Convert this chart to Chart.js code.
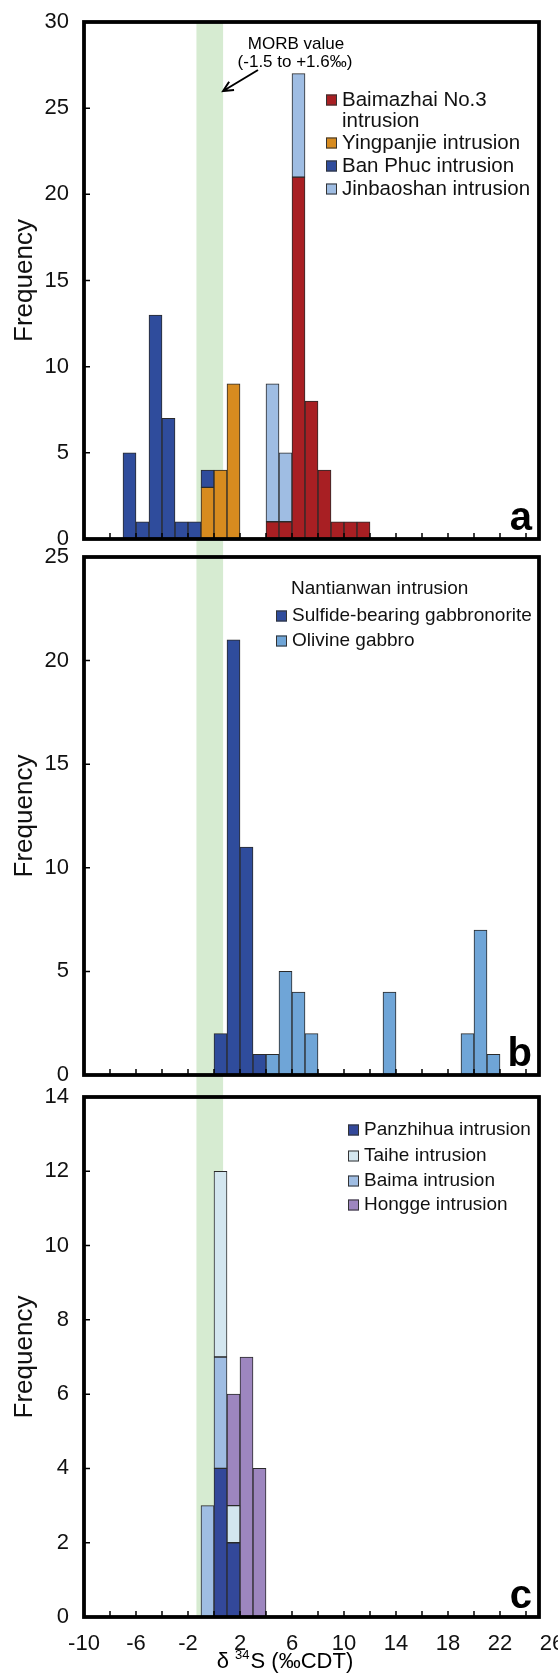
<!DOCTYPE html>
<html lang="en">
<head>
<meta charset="UTF-8">
<title>Sulfur isotope histograms</title>
<script src="https://cdn.jsdelivr.net/npm/chart.js"></script>
<style>
  * { margin: 0; padding: 0; box-sizing: border-box; }
  body { width: 558px; height: 1673px; background: #fff; position: relative; overflow: hidden; }
  canvas { position: absolute; left: 0; display: block; }
  #chartA { top: 0; }
  #chartB { top: 548px; }
  #chartC { top: 1087px; }
</style>
</head>
<body>
<canvas id="chartA" width="558" height="548"></canvas>
<canvas id="chartB" width="558" height="539"></canvas>
<canvas id="chartC" width="558" height="586"></canvas>
<script>
// bins are 1 permil wide, given by their left edge
const xTickValues = [-10, -8, -6, -4, -2, 0, 2, 4, 6, 8, 10, 12, 14, 16, 18, 20, 22, 24, 26];
const xTickLabels = [-10, -6, -2, 2, 6, 10, 14, 18, 22, 26];
const xTitleParts = ['δ ', '34', 'S (‰CDT)'];
const morbRange = [-1.35, 0.7];
const morbNote = ['MORB value', '(-1.5 to +1.6‰)'];

// panel a
const yTicksA = [0, 5, 10, 15, 20, 25, 30];
const baimazhaiBins = [4, 5, 6, 7, 8, 9, 10, 11];
const baimazhaiCounts = [1, 1, 21, 8, 4, 1, 1, 1];
const yingpanjieBins = [-1, 0, 1];
const yingpanjieCounts = [3, 4, 9];
const banPhucBins = [-7, -6, -5, -4, -3, -2, -1];
const banPhucCounts = [5, 1, 13, 7, 1, 1, 1];
const jinbaoshanBins = [4, 5, 6];
const jinbaoshanCounts = [8, 4, 6];

// panel b
const yTicksB = [0, 5, 10, 15, 20, 25];
const sulfideBins = [0, 1, 2, 3];
const sulfideCounts = [2, 21, 11, 1];
const olivineBins = [4, 5, 6, 7, 13, 19, 20, 21];
const olivineCounts = [1, 5, 4, 2, 4, 2, 7, 1];

// panel c
const yTicksC = [0, 2, 4, 6, 8, 10, 12, 14];
const panzhihuaBins = [0, 1];
const panzhihuaCounts = [4, 2];
const baimaBins = [-1, 0];
const baimaCounts = [3, 3];
const taiheBins = [0, 1];
const taiheCounts = [5, 1];
const honggeBins = [1, 2, 3];
const honggeCounts = [3, 7, 4];

const FONT = "'Liberation Sans', Arial, sans-serif";
Chart.defaults.font.family = FONT;
Chart.defaults.color = '#111';

function toPoints(bins, counts) {
  return bins.map((b, i) => ({ x: b + 0.5, y: counts[i] }));
}

function barSet(label, bins, counts, color) {
  return {
    label: label,
    data: toPoints(bins, counts),
    backgroundColor: color,
    borderColor: '#2a2a2a',
    borderWidth: 1,
    borderSkipped: false,
    barPercentage: 1,
    categoryPercentage: 1
  };
}

// green MORB band, thick frame, inward ticks, legend, panel letter
const panelPlugin = {
  id: 'panel',
  beforeDatasetsDraw(chart, args, o) {
    const { ctx, chartArea, scales: { x } } = chart;
    const x0 = x.getPixelForValue(morbRange[0]);
    const x1 = x.getPixelForValue(morbRange[1]);
    const top = o.bandTop === 'canvas' ? 0 : chartArea.top;
    const bottom = o.bandBottom === 'canvas' ? chart.height : chartArea.bottom;
    ctx.save();
    ctx.fillStyle = '#d6ebd1';
    ctx.fillRect(x0, top, x1 - x0, bottom - top);
    ctx.restore();
  },
  afterDatasetsDraw(chart, args, o) {
    const { ctx, scales: { x, y } } = chart;
    const left = x.getPixelForValue(-10);
    const right = x.getPixelForValue(25);
    const top = y.getPixelForValue(y.max);
    const bottom = y.getPixelForValue(0);
    ctx.save();
    ctx.strokeStyle = '#000';
    ctx.lineWidth = 1.5;
    ctx.beginPath();
    x.ticks.forEach(t => {
      if (t.value > -10 && t.value < 25) {
        const px = x.getPixelForValue(t.value);
        ctx.moveTo(px, bottom);
        ctx.lineTo(px, bottom - 6);
      }
    });
    y.ticks.forEach(t => {
      if (t.value > 0 && t.value < y.max) {
        const py = y.getPixelForValue(t.value);
        ctx.moveTo(left, py);
        ctx.lineTo(left + 6, py);
      }
    });
    ctx.stroke();
    ctx.lineWidth = 3.8;
    ctx.strokeRect(left, top, right - left, bottom - top);
    ctx.restore();
  },
  afterDraw(chart, args, o) {
    const { ctx, scales: { x, y } } = chart;
    const lg = o.legend;
    ctx.save();
    ctx.textBaseline = 'middle';
    ctx.textAlign = 'left';
    ctx.font = lg.size + 'px ' + FONT;
    ctx.fillStyle = '#111';
    if (lg.header) ctx.fillText(lg.header.text, lg.header.x, lg.header.y);
    lg.order.forEach((di, k) => {
      const ds = chart.data.datasets[di];
      const ry = lg.rows[k];
      ctx.fillStyle = ds.backgroundColor;
      ctx.fillRect(lg.boxX, ry - 5.5, 11, 11);
      ctx.strokeStyle = '#333';
      ctx.lineWidth = 1;
      ctx.strokeRect(lg.boxX + 0.5, ry - 5, 10, 10);
      ctx.fillStyle = '#111';
      const lines = Array.isArray(ds.label) ? ds.label : [ds.label];
      lines.forEach((ln, j) => ctx.fillText(ln, lg.textX, ry + j * 21));
    });
    // panel letter
    ctx.font = 'bold 40px ' + FONT;
    ctx.textAlign = 'right';
    ctx.textBaseline = 'alphabetic';
    ctx.fillStyle = '#000';
    ctx.fillText(o.letter, x.getPixelForValue(25) - 7, y.getPixelForValue(0) - 9);
    if (o.note) {
      ctx.font = '17px ' + FONT;
      ctx.textAlign = 'center';
      ctx.textBaseline = 'middle';
      ctx.fillText(morbNote[0], 296, 44);
      ctx.fillText(morbNote[1], 295, 62);
      const hx = x.getPixelForValue(morbRange[1]);
      const hy = 91;
      const tx = 258, ty = 70;
      ctx.strokeStyle = '#000';
      ctx.lineWidth = 2;
      ctx.beginPath();
      ctx.moveTo(tx, ty);
      ctx.lineTo(hx, hy);
      const ang = Math.atan2(hy - ty, hx - tx);
      ctx.moveTo(hx - 11 * Math.cos(ang - 0.45), hy - 11 * Math.sin(ang - 0.45));
      ctx.lineTo(hx, hy);
      ctx.lineTo(hx - 11 * Math.cos(ang + 0.45), hy - 11 * Math.sin(ang + 0.45));
      ctx.stroke();
    }
    if (o.xTitle) {
      // δ with superscript 34
      const big = '22px ' + FONT, small = '13px ' + FONT;
      ctx.textAlign = 'left';
      ctx.textBaseline = 'alphabetic';
      ctx.font = big;
      const w0 = ctx.measureText(xTitleParts[0]).width;
      const w2 = ctx.measureText(xTitleParts[2]).width;
      ctx.font = small;
      const w1 = ctx.measureText(xTitleParts[1]).width + 1;
      let cx = o.xTitle.x - (w0 + w1 + w2) / 2;
      const by = o.xTitle.y;
      ctx.font = big;
      ctx.fillText(xTitleParts[0], cx, by);
      cx += w0;
      ctx.font = small;
      ctx.fillText(xTitleParts[1], cx, by - 9);
      cx += w1;
      ctx.font = big;
      ctx.fillText(xTitleParts[2], cx, by);
    }
    ctx.restore();
  }
};

function makeChart(id, datasets, yTicks, o) {
  return new Chart(document.getElementById(id), {
    type: 'bar',
    data: { datasets: datasets },
    options: {
      responsive: false,
      animation: false,
      events: [],
      layout: { padding: { top: o.top, right: 6, left: 0, bottom: 0 } },
      plugins: {
        legend: { display: false },
        tooltip: { enabled: false },
        panel: o.panel
      },
      scales: {
        x: {
          type: 'linear',
          stacked: true,
          offset: false,
          min: -10,
          max: 26,
          grid: { display: false },
          border: { display: false },
          afterBuildTicks: s => { s.ticks = xTickValues.map(v => ({ value: v })); },
          ticks: {
            display: o.xLabels,
            autoSkip: false,
            maxRotation: 0,
            padding: 6,
            font: { size: 22 },
            callback: v => (xTickLabels.includes(v) ? String(v) : '')
          },
          afterFit: s => { s.height = o.xHeight; s.paddingLeft = 0; s.paddingRight = 0; }
        },
        y: {
          stacked: true,
          min: 0,
          max: yTicks[yTicks.length - 1],
          grid: { display: false },
          border: { display: false },
          afterBuildTicks: s => { s.ticks = yTicks.map(v => ({ value: v })); },
          ticks: { padding: 7, font: { size: 22 } },
          title: { display: true, text: 'Frequency', font: { size: 26 }, padding: { top: 9, bottom: 0 } },
          afterFit: s => { s.width = 84; s.paddingTop = 0; s.paddingBottom = 0; }
        }
      }
    },
    plugins: [panelPlugin]
  });
}

makeChart('chartA', [
  barSet(['Baimazhai No.3', 'intrusion'], baimazhaiBins, baimazhaiCounts, '#a81f23'),
  barSet('Yingpanjie intrusion', yingpanjieBins, yingpanjieCounts, '#d78b1f'),
  barSet('Ban Phuc intrusion', banPhucBins, banPhucCounts, '#2f4c9c'),
  barSet('Jinbaoshan intrusion', jinbaoshanBins, jinbaoshanCounts, '#9fbde3')
], yTicksA, {
  top: 22, xHeight: 9, xLabels: false,
  panel: {
    letter: 'a', bandTop: 'area', bandBottom: 'canvas', note: true,
    legend: { size: 20.5, order: [0, 1, 2, 3], boxX: 326, textX: 342, rows: [100, 143, 166, 189] }
  }
});

makeChart('chartB', [
  barSet('Sulfide-bearing gabbronorite', sulfideBins, sulfideCounts, '#2f4c9c'),
  barSet('Olivine gabbro', olivineBins, olivineCounts, '#6fa5d7')
], yTicksB, {
  top: 9, xHeight: 12, xLabels: false,
  panel: {
    letter: 'b', bandTop: 'canvas', bandBottom: 'canvas',
    legend: { size: 19, order: [0, 1], boxX: 276, textX: 292, rows: [68, 93],
              header: { text: 'Nantianwan intrusion', x: 291, y: 41 } }
  }
});

makeChart('chartC', [
  barSet('Panzhihua intrusion', panzhihuaBins, panzhihuaCounts, '#33489a'),
  barSet('Baima intrusion', baimaBins, baimaCounts, '#9fbde3'),
  barSet('Taihe intrusion', taiheBins, taiheCounts, '#d3e6ef'),
  barSet('Hongge intrusion', honggeBins, honggeCounts, '#9d86bf')
], yTicksC, {
  top: 10, xHeight: 56, xLabels: true,
  panel: {
    letter: 'c', bandTop: 'canvas', bandBottom: 'area', xTitle: { x: 285, y: 581 },
    legend: { size: 19, order: [0, 2, 1, 3], boxX: 348, textX: 364, rows: [43, 69, 94, 118] }
  }
});
</script>
</body>
</html>
